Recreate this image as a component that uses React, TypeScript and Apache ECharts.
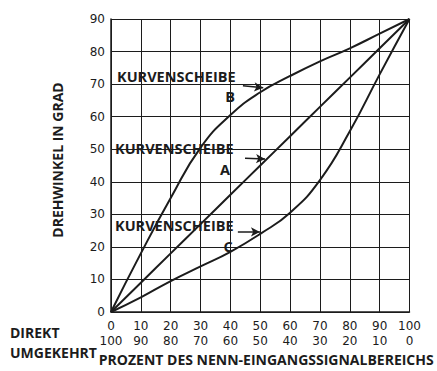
import React, { useEffect, useRef } from "react";
import * as echarts from "echarts";

const xValues = [0, 10, 20, 30, 40, 50, 60, 70, 80, 90, 100];
const curveA = [0, 9, 18, 27, 36, 45, 54, 63, 72, 81, 90];
const curveB = [0, 18, 35, 50.5, 60.5, 67.5, 72.5, 77, 81, 85.5, 90];
const curveC = [0, 4.5, 9.5, 14, 18.5, 24, 30.5, 40.5, 55.5, 73, 90];
const yTicks = [0, 10, 20, 30, 40, 50, 60, 70, 80, 90];

const labelCurve = "KURVENSCHEIBE";
const arrowB = [[44.2, 69.5], [51, 68.9]];
const arrowA = [[44.9, 47.2], [51.6, 47.0]];
const arrowC = [[42.5, 24.6], [49.9, 24.6]];

const INK = "#1c1c1c";
const TXT_FONT = "'Open Sans', 'DejaVu Sans', sans-serif";
const NUM_FONT = "'DejaVu Sans', sans-serif";

function pairs(ys: number[]) {
  return xValues.map((x, i) => [x, ys[i]]);
}

function arrowLine(a: number[][]) {
  return {
    silent: true,
    symbol: ["none", "arrow"],
    symbolSize: [7, 9],
    label: { show: false },
    lineStyle: { color: INK, width: 1.5, type: "solid" },
    data: [[{ coord: a[0] }, { coord: a[1] }]],
  };
}

function curve(name: string, ys: number[], arrow: number[][]) {
  return {
    name,
    type: "line",
    data: pairs(ys),
    smooth: 0.5,
    showSymbol: false,
    symbol: "none",
    lineStyle: { color: INK, width: 2 },
    markLine: arrowLine(arrow),
  };
}

export default function App() {
  const ref = useRef<HTMLDivElement>(null);
  useEffect(() => {
    if (!ref.current) return;
    const chart = echarts.init(ref.current, null, { renderer: "svg" });
    const textStyle = (x: number, y: number, t: string, size = 14.5, align = "left") => ({
      type: "text",
      x,
      y,
      style: {
        text: t,
        fill: INK,
        font: `bold ${size}px ${TXT_FONT}`,
        lineHeight: size,
        textAlign: align,
        textVerticalAlign: "middle",
      },
    });
    chart.setOption({
      animation: false,
      backgroundColor: "#ffffff",
      grid: { left: 111, right: 27.5, top: 19, bottom: 57, containLabel: false },
      xAxis: {
        type: "value",
        min: 0,
        max: 100,
        interval: 10,
        name: "PROZENT DES NENN-EINGANGSSIGNALBEREICHS",
        nameLocation: "middle",
        nameGap: 40,
        nameTextStyle: {
          color: INK,
          fontFamily: TXT_FONT,
          fontWeight: "bold",
          fontSize: 14,
          padding: [0, 0, 0, 12],
        },
        axisLine: { show: true, lineStyle: { color: INK, width: 1.5 } },
        axisTick: { show: false },
        splitLine: { show: true, lineStyle: { color: INK, width: 1 } },
        axisLabel: {
          margin: 6,
          formatter: (v: number) => `{a|${v}}\n{a|${100 - v}}`,
          rich: {
            a: { fontFamily: NUM_FONT, fontSize: 12, color: INK, lineHeight: 15 },
          },
        },
      },
      yAxis: {
        type: "value",
        min: yTicks[0],
        max: yTicks[yTicks.length - 1],
        interval: 10,
        name: "DREHWINKEL IN GRAD",
        nameLocation: "middle",
        nameRotate: 90,
        nameGap: 47,
        nameTextStyle: {
          color: INK,
          fontFamily: TXT_FONT,
          fontWeight: "bold",
          fontSize: 14,
          padding: [0, 0, 0, 11],
        },
        axisLine: { show: true, lineStyle: { color: INK, width: 1.5 } },
        axisTick: { show: false },
        splitLine: { show: true, lineStyle: { color: INK, width: 1 } },
        axisLabel: {
          margin: 6,
          fontFamily: NUM_FONT,
          fontSize: 12,
          color: INK,
        },
      },
      series: [
        curve("Kurvenscheibe A", curveA, arrowA),
        curve("Kurvenscheibe B", curveB, arrowB),
        curve("Kurvenscheibe C", curveC, arrowC),
      ],
      graphic: [
        textStyle(117, 76, labelCurve),
        textStyle(230, 96.5, "B", 14.5, "center"),
        textStyle(115, 148.5, labelCurve),
        textStyle(225, 169, "A", 14.5, "center"),
        textStyle(115, 225.5, labelCurve),
        textStyle(228, 246, "C", 14.5, "center"),
        textStyle(10, 332, "DIREKT", 14),
        textStyle(10, 352, "UMGEKEHRT", 14),
      ],
    });
    return () => chart.dispose();
  }, []);
  return <div ref={ref} style={{ width: 437, height: 371, position: "absolute", left: 0, top: 0 }} />;
}
